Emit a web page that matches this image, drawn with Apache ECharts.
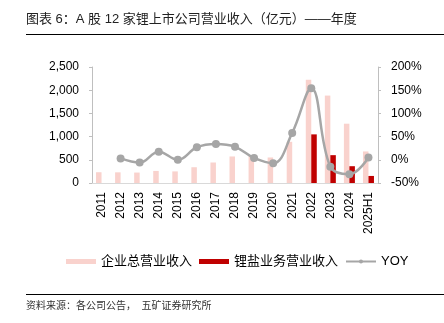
<!DOCTYPE html>
<html><head><meta charset="utf-8">
<script src="https://cdn.jsdelivr.net/npm/echarts@6/dist/echarts.min.js"></script>
<style>html,body{margin:0;padding:0;background:#fff}#c{width:444px;height:323px}</style>
</head><body><div id="c"></div>
<script>
const categories = ['2011','2012','2013','2014','2015','2016','2017','2018','2019','2020','2021','2022','2023','2024','2025H1'];
const totalRevenue = [232, 230, 225, 260, 250, 340, 442, 572, 585, 550, 888, 2225, 1884, 1278, 680];
const lithiumRevenue = [null, null, null, null, null, null, null, null, null, null, null, 1048, 600, 362, 152];
const yoy = [null, 3, -6, 17.5, 0, 27, 34, 28, 4, -7.5, 58, 154, -15, -31, 5];
const leftTicks = {min: 0, max: 2500, interval: 500};
const rightTicks = {min: -50, max: 200, interval: 50};
const titleText = '图表 6：A 股 12 家锂上市公司营业收入（亿元）——年度';
const sourceText = '资料来源：各公司公告，  五矿证券研究所';
const seriesNames = ['企业总营业收入', '锂盐业务营业收入', 'YOY'];

const FONT = '"Liberation Sans", "Noto Sans CJK SC", sans-serif';
const chart = echarts.init(document.getElementById('c'), null, {renderer: 'canvas'});
chart.setOption({
  animation: false,
  textStyle: {fontFamily: FONT},
  graphic: [
    {type: 'text', left: 26, top: 13, style: {text: titleText, fontSize: 13, fill: '#222', fontFamily: FONT}},
    {type: 'line', shape: {x1: 26, y1: 34.5, x2: 444, y2: 34.5}, style: {stroke: '#000', lineWidth: 1}},
    {type: 'line', shape: {x1: 26, y1: 294.5, x2: 444, y2: 294.5}, style: {stroke: '#000', lineWidth: 1}},
    {type: 'text', left: 26, top: 301, style: {text: sourceText, fontSize: 10, fill: '#333', fontFamily: FONT}}
  ],
  legend: {
    left: 61, top: 250, itemWidth: 30, itemHeight: 5, itemGap: 7,
    textStyle: {fontSize: 13, color: '#000', fontFamily: FONT},
    data: [
      {name: seriesNames[0], icon: 'rect'},
      {name: seriesNames[1], icon: 'rect'},
      {name: seriesNames[2]}
    ]
  },
  grid: {left: 92, right: 66, top: 67, bottom: 140, containLabel: false},
  xAxis: {
    type: 'category', data: categories,
    axisLine: {lineStyle: {color: '#d9d9d9', width: 1}},
    axisTick: {show: false},
    axisLabel: {rotate: 90, fontSize: 12, color: '#000', margin: 9, interval: 0}
  },
  yAxis: [
    {type: 'value', min: leftTicks.min, max: leftTicks.max, interval: leftTicks.interval,
     splitLine: {show: false},
     axisLine: {show: true, lineStyle: {color: '#bfbfbf'}},
     axisTick: {show: true, length: 3, lineStyle: {color: '#bfbfbf'}},
     axisLabel: {fontSize: 12, color: '#000', margin: 13,
       formatter: v => v.toLocaleString('en-US')}},
    {type: 'value', min: rightTicks.min, max: rightTicks.max, interval: rightTicks.interval,
     splitLine: {show: false},
     axisLine: {show: true, lineStyle: {color: '#bfbfbf'}},
     axisTick: {show: true, length: 3, lineStyle: {color: '#bfbfbf'}},
     axisLabel: {fontSize: 12, color: '#000', margin: 13, formatter: '{value}%'}}
  ],
  series: [
    {name: seriesNames[0], type: 'bar', data: totalRevenue, barWidth: 5.5, barGap: '0%',
     itemStyle: {color: '#f9d2cd'}},
    {name: seriesNames[1], type: 'bar', data: lithiumRevenue, barWidth: 5.5, barGap: '0%',
     itemStyle: {color: '#c00000'}},
    {name: seriesNames[2], type: 'line', yAxisIndex: 1, data: yoy, smooth: 0.4,
     symbol: 'circle', symbolSize: 8, connectNulls: false,
     lineStyle: {color: '#a6a6a6', width: 2.5},
     itemStyle: {color: '#a6a6a6'}, z: 5}
  ]
});
</script></body></html>
